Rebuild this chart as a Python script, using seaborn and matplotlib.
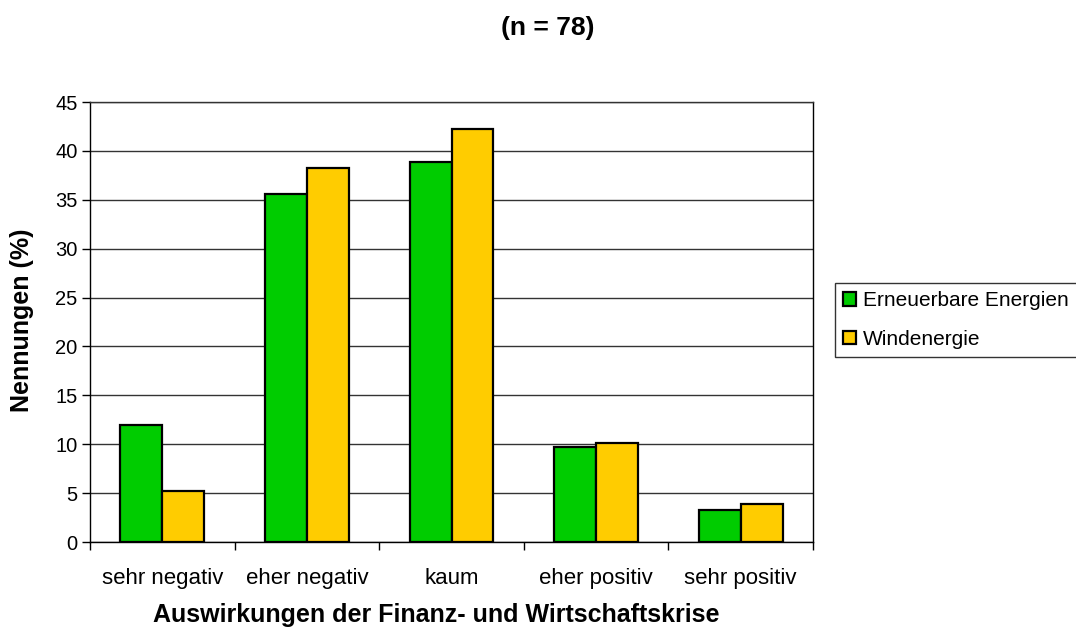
import matplotlib
matplotlib.use("Agg")
import matplotlib.pyplot as plt
import seaborn as sns
import pandas as pd
import numpy as np

categories = ["sehr negativ", "eher negativ", "kaum", "eher positiv", "sehr positiv"]
erneuerbare = [12.0, 35.6, 38.9, 9.7, 3.3]
wind = [5.2, 38.3, 42.2, 10.1, 3.9]
series_names = ["Erneuerbare Energien", "Windenergie"]
colors = ["#00CC00", "#FFCC00"]

df = pd.DataFrame({
    "Kategorie": categories * 2,
    "Wert": erneuerbare + wind,
    "Serie": [series_names[0]] * 5 + [series_names[1]] * 5,
})

sns.set_theme(style="white")
plt.rcParams["font.family"] = ["Liberation Sans", "DejaVu Sans"]
plt.rcParams.update({"text.color": "black", "axes.labelcolor": "black",
                     "xtick.color": "black", "ytick.color": "black"})

W, H = 1076, 631
fig = plt.figure(figsize=(W / 100, H / 100), dpi=100)
ax = fig.add_axes([90 / W, 1 - 542 / H, (813 - 90) / W, (542 - 102) / H])

sns.barplot(data=df, x="Kategorie", y="Wert", hue="Serie", order=categories,
            hue_order=series_names, palette=colors, width=0.58,
            edgecolor="black", linewidth=1.6, saturation=1, ax=ax, legend=True)

ax.set_xlim(-0.5, 4.5)
ax.set_ylim(0, 45)
ax.set_yticks(np.arange(0, 46, 5))
ax.yaxis.grid(True, color="#333333", linewidth=1.0)
ax.set_axisbelow(True)
for s in ax.spines.values():
    s.set_visible(True)
    s.set_color("black")
    s.set_linewidth(1.0)
ax.spines["top"].set_color("#333333")

# category labels sit between the boundary ticks
ax.set_xticks(range(5))
ax.set_xticklabels(categories, fontsize=16)
ax.tick_params(axis="x", which="major", length=0, pad=26)
ax.set_xticks(np.arange(-0.5, 5, 1), minor=True)
ax.tick_params(axis="x", which="minor", length=6, width=1, color="black",
               direction="out", bottom=True)
ax.tick_params(axis="y", length=6, width=1, color="black", direction="out",
               left=True, labelsize=14.5, pad=3)
for t in ax.get_xticklabels():
    t.set_verticalalignment("center")

ax.set_xlabel("Auswirkungen der Finanz- und Wirtschaftskrise", fontsize=18,
              fontweight="bold")
ax.xaxis.set_label_coords((436 - 90) / (813 - 90), -(615 - 542) / (542 - 102))
ax.xaxis.label.set_verticalalignment("center")
ax.set_ylabel("Nennungen (%)", fontsize=18, fontweight="bold")
ax.yaxis.set_label_coords(-(90 - 22) / (813 - 90), (542 - 320) / (542 - 102))
ax.yaxis.label.set_verticalalignment("center")

fig.text(548 / W, 1 - 28 / H, "(n = 78)", fontsize=19, fontweight="bold",
         ha="center", va="center")

handles, labels = ax.get_legend_handles_labels()
ax.get_legend().remove()
leg = fig.legend(handles, labels, loc="upper left",
                 bbox_to_anchor=(835 / W, 1 - 283 / H), fontsize=15,
                 frameon=True, fancybox=False, edgecolor="black",
                 handlelength=0.6, handleheight=0.6, handletextpad=0.35,
                 labelspacing=0.95, borderpad=0.4, borderaxespad=0)
leg.get_frame().set_linewidth(1.0)

fig.savefig("out.png", dpi=100)
